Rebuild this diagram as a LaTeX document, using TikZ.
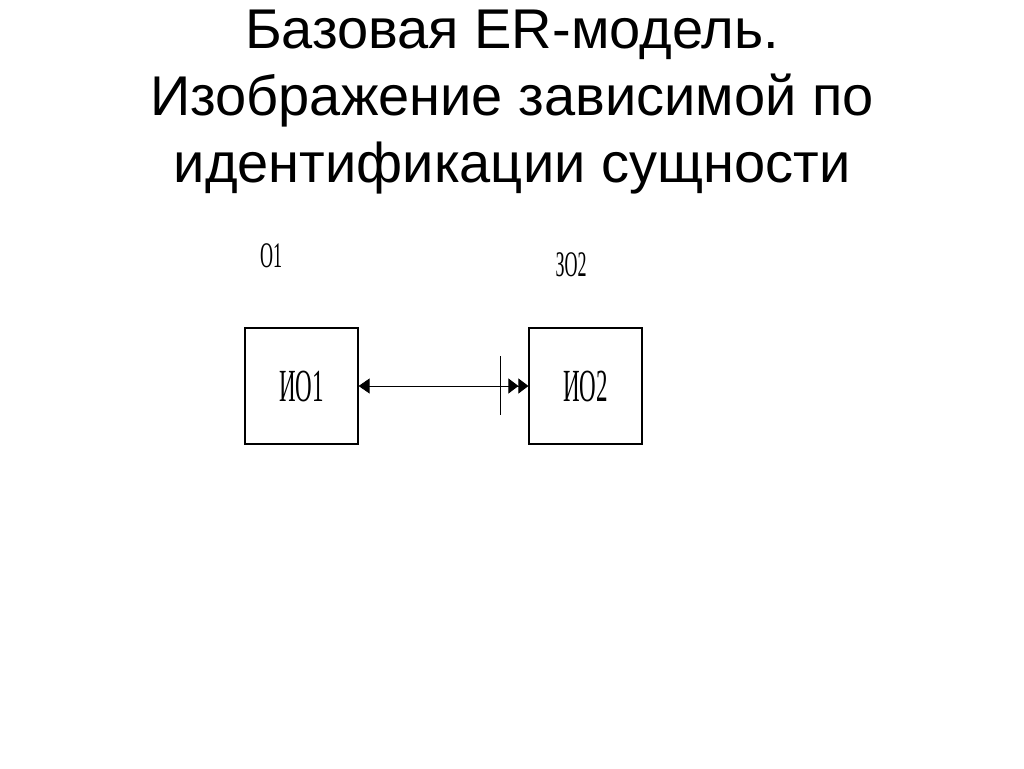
\documentclass[tikz,border=0pt]{standalone}
\usepackage{fontspec}
\setmainfont{Liberation Sans}
\newfontfamily\narrowserif[FakeStretch=0.5]{Liberation Serif}
\usetikzlibrary{arrows.meta}

\tikzset{
  entity/.style={draw,line width=1.2pt,minimum width=113pt,minimum height=116pt,inner sep=0pt,
    font=\narrowserif\fontsize{46}{46}\selectfont},
  entlabel/.style={font=\narrowserif\fontsize{36}{36}\selectfont,inner sep=0pt}
}

\begin{document}
\begin{tikzpicture}[x=1pt,y=-1pt]
  \useasboundingbox (0,0) rectangle (1024,768);
  % title
  \node[align=center,font=\fontsize{56}{67}\selectfont,inner sep=0pt] (title) at (512,102)
    {Базовая ER-модель.\\Изображение зависимой по\\идентификации сущности};
  % the two entities
  \node[entity] (io1) at (301.5,386) {ИО1};
  \node[entity] (io2) at (585.5,386) {ИО2};
  \node[entlabel] (o1) at (271,256) {О1};
  \node[entlabel] (zo2) at (571,265) {ЗО2};
  % identifying relationship
  \draw[line width=0.8pt,{Triangle[length=11pt,width=15pt]}-{Triangle[length=10pt,width=15pt]Triangle[length=10pt,width=15pt]}]
    (io1.east) -- (io2.west);
  \draw[line width=0.8pt] ([xshift=-28pt,yshift=30pt]io2.west) -- ([xshift=-28pt,yshift=-29pt]io2.west);
\end{tikzpicture}
\end{document}
